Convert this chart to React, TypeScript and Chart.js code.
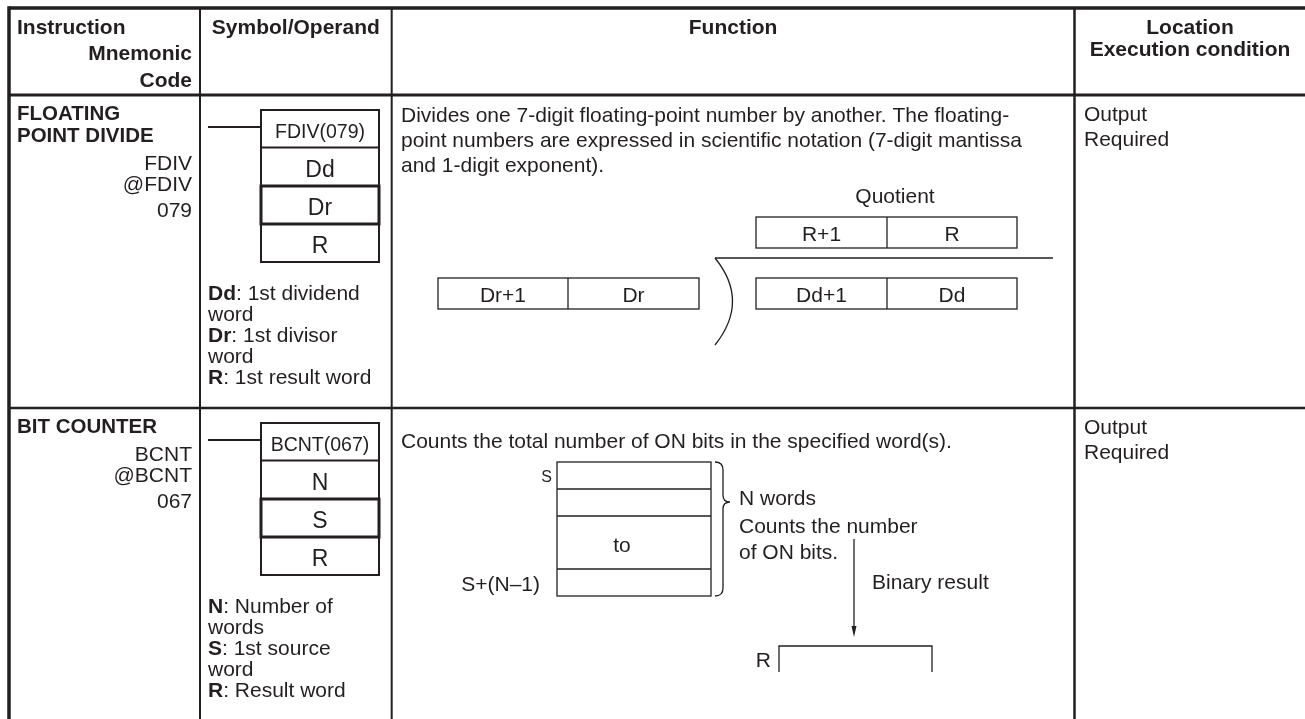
import React, { useEffect, useRef } from "react";
import { Chart, registerables } from "chart.js";

Chart.register(...registerables);

// ---------- content (text data) ----------
const headerInstruction = ["Instruction", "Mnemonic", "Code"];
const headerSymbol = "Symbol/Operand";
const headerFunction = "Function";
const headerLocation = ["Location", "Execution condition"];

const instructionNames = [["FLOATING", "POINT DIVIDE"], ["BIT COUNTER"]];
const mnemonics = [["FDIV", "@FDIV", "079"], ["BCNT", "@BCNT", "067"]];
const symbolLabels = ["FDIV(079)", "BCNT(067)"];
const operandLabels = [["Dd", "Dr", "R"], ["N", "S", "R"]];
const operandNotes = [
  [["Dd", ": 1st dividend"], ["", "word"], ["Dr", ": 1st divisor"], ["", "word"], ["R", ": 1st result word"]],
  [["N", ": Number of"], ["", "words"], ["S", ": 1st source"], ["", "word"], ["R", ": Result word"]],
];
const functionTexts = [
  [
    "Divides one 7-digit floating-point number by another. The floating-",
    "point numbers are expressed in scientific notation (7-digit mantissa",
    "and 1-digit exponent).",
  ],
  ["Counts the total number of ON bits in the specified word(s)."],
];
const locationTexts = [["Output", "Required"], ["Output", "Required"]];

const quotientLabel = "Quotient";
const quotientWords = ["R+1", "R"];
const divisorWords = ["Dr+1", "Dr"];
const dividendWords = ["Dd+1", "Dd"];

const sourceFirstLabel = "S";
const sourceMiddleLabel = "to";
const sourceLastLabel = "S+(N\u20131)";
const braceLabel = "N words";
const countNote = ["Counts the number", "of ON bits."];
const arrowLabel = "Binary result";
const resultLabel = "R";

// ---------- layout (positions / sizes / styles) ----------
const W = 1305;
const H = 719;
const FONT = '"Liberation Sans", Arial, Helvetica, sans-serif';
const INK = "#231f20";

const LAYOUT = {
  left: 9,
  top: 8,
  right: 1307,
  bottom: 760,
  cols: [200, 391.7, 1074.5],
  headerBottom: 95,
  rowTops: [95, 408],
  functionTop: [114.5, 440],
};

const tablePlugin = {
  id: "tablePlugin",
  beforeDraw(chart: any) {
    const ctx: CanvasRenderingContext2D = chart.ctx;
    ctx.save();
    ctx.fillStyle = "#ffffff";
    ctx.fillRect(0, 0, chart.width, chart.height);
    ctx.restore();
  },
  afterDraw(chart: any) {
    const ctx: CanvasRenderingContext2D = chart.ctx;
    const xs = chart.scales.x;
    const ys = chart.scales.y;
    const X = (v: number) => xs.getPixelForValue(v);
    const Y = (v: number) => ys.getPixelForValue(v);

    const font = (size: number, bold: boolean) => `${bold ? "bold " : ""}${size}px ${FONT}`;
    const txt = (s: string, x: number, yc: number, size: number, bold = false, align: CanvasTextAlign = "left") => {
      ctx.font = font(size, bold);
      ctx.textAlign = align;
      ctx.textBaseline = "alphabetic";
      ctx.fillStyle = INK;
      ctx.fillText(s, X(x), Y(yc) + size * 0.358);
    };
    const line = (x1: number, y1: number, x2: number, y2: number, lw: number) => {
      ctx.beginPath();
      ctx.lineWidth = lw;
      ctx.strokeStyle = INK;
      ctx.moveTo(X(x1), Y(y1));
      ctx.lineTo(X(x2), Y(y2));
      ctx.stroke();
    };
    const rect = (x1: number, y1: number, x2: number, y2: number, lw: number) => {
      ctx.lineWidth = lw;
      ctx.strokeStyle = INK;
      ctx.strokeRect(X(x1), Y(y1), X(x2) - X(x1), Y(y2) - Y(y1));
    };

    ctx.save();
    ctx.lineCap = "butt";

    // ----- grid -----
    const L = LAYOUT;
    line(L.left, L.top, L.right, L.top, 3.5);
    line(L.left, L.top - 1.7, L.left, L.bottom, 3.5);
    line(L.right, L.top, L.right, L.bottom, 3.5);
    L.cols.forEach((c, i) => line(c, L.top, c, L.bottom, i === 2 ? 2.5 : 2));
    line(L.left, L.headerBottom, L.right, L.headerBottom, 3);
    line(L.left, L.rowTops[1], L.right, L.rowTops[1], 2.5);

    // ----- header -----
    txt(headerInstruction[0], 17, 26, 21, true, "left");
    txt(headerInstruction[1], 192, 52.5, 21, true, "right");
    txt(headerInstruction[2], 192, 79, 21, true, "right");
    txt(headerSymbol, (L.cols[0] + L.cols[1]) / 2, 26, 21, true, "center");
    txt(headerFunction, (L.cols[1] + L.cols[2]) / 2, 26, 21, true, "center");
    txt(headerLocation[0], 1190, 26, 21, true, "center");
    txt(headerLocation[1], 1190, 48, 21, true, "center");

    // ----- rows -----
    L.rowTops.forEach((r, ri) => {
      // instruction names + mnemonic
      const names = instructionNames[ri];
      names.forEach((n, i) => txt(n, 17, r + 18 + i * 22, 20.5, true, "left"));
      const mStart = r + 18 + names.length * 22 + 5;
      const mOff = [0, 21, 47];
      mnemonics[ri].forEach((m, i) => txt(m, 192, mStart + mOff[i], 21, false, "right"));

      // ladder symbol
      const bx1 = 261, bx2 = 379;
      const rows = [r + 15, r + 52.5, r + 91, r + 129, r + 167];
      line(208, r + 32, bx1, r + 32, 2);
      rect(bx1, rows[0], bx2, rows[4], 2);
      line(bx1, rows[1], bx2, rows[1], 2);
      rect(bx1, rows[2], bx2, rows[3], 3);
      const cx = (bx1 + bx2) / 2;
      txt(symbolLabels[ri], cx, (rows[0] + rows[1]) / 2 + 2.5, 19.5, false, "center");
      operandLabels[ri].forEach((o, i) => txt(o, cx, (rows[i + 1] + rows[i + 2]) / 2 + 2, 23, false, "center"));

      // operand notes
      operandNotes[ri].forEach((pair, i) => {
        const y = r + 197 + i * 21.2;
        let x = 208;
        if (pair[0]) {
          txt(pair[0], x, y, 21, true, "left");
          ctx.font = font(21, true);
          x += ctx.measureText(pair[0]).width;
        }
        txt(pair[1], x, y, 21, false, "left");
      });

      // function text
      functionTexts[ri].forEach((t, i) => txt(t, 401, L.functionTop[ri] + i * 25, 21, false, "left"));

      // location
      locationTexts[ri].forEach((t, i) => txt(t, 1084, r + 18 + i * 25, 21, false, "left"));
    });

    // ----- FDIV diagram -----
    const thin = 1.3;
    const pairBox = (x1: number, xm: number, x2: number, y1: number, y2: number, words: string[]) => {
      rect(x1, y1, x2, y2, thin);
      line(xm, y1, xm, y2, thin);
      const yc = (y1 + y2) / 2 + 1;
      txt(words[0], (x1 + xm) / 2, yc, 21, false, "center");
      txt(words[1], (xm + x2) / 2, yc, 21, false, "center");
    };
    txt(quotientLabel, 895, 195, 21, false, "center");
    pairBox(756, 887, 1017, 217, 248, quotientWords);
    line(715, 258, 1053, 258, thin);
    ctx.beginPath();
    ctx.lineWidth = thin;
    ctx.strokeStyle = INK;
    ctx.moveTo(X(715), Y(258));
    ctx.quadraticCurveTo(X(750), Y(301), X(715), Y(345));
    ctx.stroke();
    pairBox(438, 568, 699, 278, 309, divisorWords);
    pairBox(756, 887, 1017, 278, 309, dividendWords);

    // ----- BCNT diagram -----
    const sx1 = 557, sx2 = 711;
    const sRows = [462, 489, 516, 569, 596];
    rect(sx1, sRows[0], sx2, sRows[4], thin);
    for (let i = 1; i < 4; i++) line(sx1, sRows[i], sx2, sRows[i], thin);
    txt(sourceFirstLabel, 552, 476, 16, false, "right");
    txt(sourceMiddleLabel, 622, 544, 21, false, "center");
    txt(sourceLastLabel, 540, 583, 21, false, "right");

    // brace
    ctx.beginPath();
    ctx.lineWidth = thin;
    ctx.strokeStyle = INK;
    ctx.moveTo(X(715), Y(462));
    ctx.quadraticCurveTo(X(723), Y(462), X(723), Y(470));
    ctx.lineTo(X(723), Y(495));
    ctx.quadraticCurveTo(X(723), Y(502), X(730), Y(502));
    ctx.quadraticCurveTo(X(723), Y(502), X(723), Y(509));
    ctx.lineTo(X(723), Y(588));
    ctx.quadraticCurveTo(X(723), Y(596), X(715), Y(596));
    ctx.stroke();

    txt(braceLabel, 739, 497, 21, false, "left");
    countNote.forEach((t, i) => txt(t, 739, 525 + i * 26, 21, false, "left"));

    // arrow
    line(854, 539, 854, 628, thin);
    ctx.beginPath();
    ctx.fillStyle = INK;
    ctx.moveTo(X(851.5), Y(626));
    ctx.lineTo(X(856.5), Y(626));
    ctx.lineTo(X(854), Y(637));
    ctx.closePath();
    ctx.fill();
    txt(arrowLabel, 872, 581, 21, false, "left");

    // result word (open at bottom as in the source)
    txt(resultLabel, 771, 659, 21, false, "right");
    ctx.beginPath();
    ctx.lineWidth = thin;
    ctx.strokeStyle = INK;
    ctx.moveTo(X(779), Y(672));
    ctx.lineTo(X(779), Y(646));
    ctx.lineTo(X(932), Y(646));
    ctx.lineTo(X(932), Y(672));
    ctx.stroke();

    ctx.restore();
  },
};

export default function App() {
  const ref = useRef<HTMLCanvasElement | null>(null);
  useEffect(() => {
    if (!ref.current) return;
    const chart = new Chart(ref.current, {
      type: "scatter",
      data: { datasets: [{ data: [], pointRadius: 0 }] },
      options: {
        animation: false,
        responsive: false,
        events: [],
        layout: { padding: 0 },
        scales: {
          x: { type: "linear", min: 0, max: W, display: false },
          y: { type: "linear", min: 0, max: H, reverse: true, display: false },
        },
        plugins: { legend: { display: false }, tooltip: { enabled: false } },
      },
      plugins: [tablePlugin],
    } as any);
    return () => chart.destroy();
  }, []);
  return (
    <div style={{ position: "fixed", left: 0, top: 0, width: W, height: H, background: "#fff" }}>
      <canvas ref={ref} width={W} height={H} style={{ display: "block", width: W, height: H }} />
    </div>
  );
}
